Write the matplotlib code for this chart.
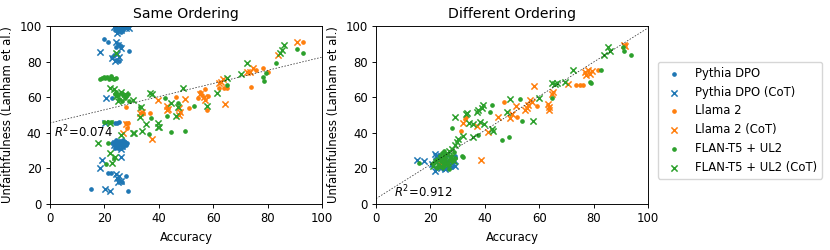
import numpy as np
import matplotlib
matplotlib.use("Agg")
import matplotlib.pyplot as plt

# the original looks like a default matplotlib figure shrunk by ~0.84
k = 0.84
plt.rcParams.update({
    "font.size": 10 * k,
    "axes.titlesize": 12 * k,
    "axes.linewidth": 0.8 * k,
    "xtick.major.size": 3.5 * k,
    "ytick.major.size": 3.5 * k,
    "xtick.major.width": 0.8 * k,
    "ytick.major.width": 0.8 * k,
    "xtick.major.pad": 3.5 * k,
    "ytick.major.pad": 3.5 * k,
    "legend.fontsize": 10 * k,
})

# ---- Same Ordering (left panel): (accuracy, unfaithfulness) ----
same_pythia = [(24.5, 99), (25.5, 98.5), (26.5, 99.5), (27, 98), (25, 97), (26, 96.5), (24, 98), (27.5, 99.2),
               (19.9, 92.5), (21.4, 91.2), (25, 90), (25.8, 89), (26.3, 88.5), (24.5, 88), (29.2, 86),
               (23, 82.5), (24.2, 81), (25.5, 80.5), (23.5, 83.5), (23, 59.7),
               (23.9, 45.7), (24.8, 45.5), (25.5, 45.9),
               (23, 34), (23.5, 35), (24, 33), (24.5, 34.5), (25, 32.5), (25.5, 35.5), (26, 33.5), (26.5, 34),
               (27, 32), (27.5, 35), (28, 33), (23.8, 31.5), (25.2, 31.2), (26.8, 36), (24.2, 36.2), (28.5, 34.2),
               (21.4, 17.2), (22.5, 17.5), (27.9, 15.7), (25, 14), (26.5, 12.5), (15.3, 8.4), (28.8, 7.3)]
same_pythia_cot = [(23.5, 99.5), (25, 99), (26, 98), (28, 99), (29.2, 98.7), (24.8, 96),
                   (18.4, 85.2), (24.5, 91), (25.2, 89.5), (26, 87.5), (22.8, 82), (24, 80.5), (25.5, 82.5), (24.8, 84),
                   (20.8, 59.4), (20.2, 45.7),
                   (23.5, 33), (24.5, 32), (25.5, 33.5), (26.5, 32.5), (27, 34), (25, 35), (24, 34.5), (26, 31),
                   (26.3, 26.6), (19, 24.7), (18.4, 20.4),
                   (24.5, 17), (25.5, 15.5), (26.3, 13), (25, 12.5), (24.8, 14.5), (20.2, 8.4), (22, 7.3)]
same_llama = [(93.1, 90.8), (78.2, 76.6), (75.7, 75.3), (80, 73.9), (62.2, 65), (63.9, 65), (65.2, 65),
              (73.8, 65.9), (58.2, 60.7), (51.2, 54), (46.3, 60), (55, 63), (56, 61), (57, 64.5), (54.5, 59.5),
              (34.1, 51.3), (36.8, 51.3), (57.6, 52.8), (27.9, 54.3), (27.9, 45.3), (28.2, 42.5), (28.8, 45.3)]
same_llama_cot = [(90.7, 91.2), (83.9, 83.7), (74.5, 76.6), (73.5, 74.3), (72.3, 74.3), (62.8, 68.7), (63.7, 70),
                  (62.1, 67.8), (64.3, 56.4), (55, 62), (56.5, 60), (57, 58.5), (49.6, 59.1), (42.9, 55.3),
                  (43.5, 53.3), (47.6, 53.8), (47.8, 51.5), (39.6, 58.4), (33.1, 51), (33.7, 51.9), (42.9, 52.8),
                  (47.6, 50), (37.7, 36.3), (27, 40), (27.9, 45)]
same_flan = [(90.7, 87.3), (93.1, 84.6), (83.1, 79), (78.4, 71.3), (78.7, 69.1), (79.4, 73.4), (65.2, 66.9),
             (52.9, 55), (42.3, 59.3), (42.9, 49.6), (37, 48.1), (36.5, 39.3), (44.4, 40.6), (49.6, 41.2),
             (33.1, 54.3), (47, 57),
             (18.4, 70.5), (19.3, 71), (20.2, 70.6), (21, 71.2), (21.8, 70.4), (22.7, 71), (23.5, 70.3),
             (24.3, 70.8), (19.8, 71.5), (22.3, 71.8),
             (24, 62), (25, 61), (26, 62.5), (27, 61.5), (28, 60.5), (28.7, 62), (25.5, 59), (26.5, 58),
             (27.5, 59.5), (24.5, 63), (29, 58),
             (20, 46), (21.5, 45.8), (22.5, 46.2), (21.4, 34.4), (20.8, 22.5), (23.5, 26)]
same_flan_cot = [(86, 89.3), (85.2, 86.5), (84.5, 85), (72.5, 79), (70.4, 73), (65.2, 70.6), (61.6, 62.2),
                 (57.6, 55.3), (49, 65), (37.4, 61.8), (36.8, 62.5), (44.7, 56.6), (47.2, 54.7), (46.3, 49.6),
                 (35.2, 44.9), (39.8, 43.4), (40.2, 43), (33.7, 41.2), (33.1, 49), (39.8, 45.3), (31, 39.7),
                 (26.3, 38.8), (30.6, 39.7), (17.8, 34.4), (22, 28.8), (23.9, 26.6), (22.7, 22.9), (22, 45.7),
                 (22, 65), (24.5, 84.7), (24.5, 60.5), (26, 63), (27.5, 62), (25, 58), (30.4, 58.4),
                 (33.5, 54.3), (23.5, 64.5)]

# ---- Different Ordering (right panel) ----
diff_pythia = [(20.5, 22), (21.5, 24), (22, 20.5), (22.5, 26), (23, 23), (23.5, 21), (24, 25), (24.5, 19.5),
               (25, 22.5), (25.5, 26.5), (26, 20.5), (26.5, 24), (27, 22), (27.5, 25.5), (28, 21), (28.5, 23.5),
               (29, 27), (23.2, 27.5), (25.8, 23), (22.8, 24.5)]
diff_pythia_cot = [(14.9, 24.6), (17.6, 24.1), (21.7, 27.9), (22.1, 26.9), (21.7, 18.8), (26.6, 21.6),
                   (25.4, 19.7), (20.5, 22.5), (23.5, 25), (24.5, 21.5), (27.5, 23), (28.5, 25), (26, 27.5),
                   (29, 21.5), (24, 20)]
diff_llama = [(81.5, 75.3), (73.5, 66.8), (75, 66.8), (76.2, 66.8), (59.1, 55), (51.7, 49), (47, 57.5),
              (33.1, 49), (32.7, 47.6), (31.1, 40.8), (25, 26), (23.5, 24), (91.5, 89.5)]
diff_llama_cot = [(91, 89.3), (91.6, 88.7), (76.8, 74), (77.8, 75.3), (78.5, 73), (79.3, 74.8), (77, 72.5),
                  (70.7, 67.2), (65.2, 63.1), (64.6, 61.8), (63, 56), (63.4, 54.3), (63.7, 52.8), (58.1, 66.3),
                  (56.6, 58.4), (57.2, 57.3), (56, 55.4), (55.4, 54.1), (54.8, 52.8), (51.5, 55), (49.9, 50.3),
                  (49.3, 48.1), (45, 49), (32.1, 45.5), (37, 44.1), (41.3, 40.2), (38.5, 24.6), (24, 23)]
diff_flan = [(90.6, 88), (91, 86.2), (93.7, 83.7), (82.6, 75.3), (78.7, 68.6), (79, 67.7), (64.6, 59.3),
             (53, 58.8), (53.5, 46.4), (42.5, 55.4), (41.9, 51.8), (37.4, 38.6), (46.2, 36.1), (49, 37.9),
             (27.8, 42.6), (31.5, 26.9), (15.9, 23.2), (31.9, 26.6),
             (21, 23), (22, 25), (23, 22), (23.5, 27), (24, 24), (24.5, 21), (25, 26), (25.5, 23), (26, 28),
             (26.5, 22), (27, 25), (27.5, 27), (28, 24), (28.5, 29), (29, 26), (22.5, 21), (25, 30),
             (26.8, 19.5), (24.2, 28.5)]
diff_flan_cot = [(85.4, 88), (86, 86.2), (83.6, 83.7), (72.5, 75.3), (69.4, 68.6), (64.6, 67.7), (65.8, 67.3),
                 (66.4, 68), (59.7, 59.3), (57.6, 46.6), (49.3, 58.8), (48, 51.8), (39.2, 55.4), (38.8, 54.1),
                 (37, 51.8), (37.6, 52.7), (38.2, 45.8), (33.1, 50.3), (33.6, 51.2), (29.1, 49), (34.3, 45.5),
                 (35.8, 45), (39.7, 45), (42.5, 42), (43.1, 41.1), (35.5, 37.9), (32.1, 38.4), (30.3, 36.6),
                 (29.6, 34.7), (29, 32.9), (28, 31), (27, 29.5), (26, 28), (25, 27.5), (24, 26), (23, 24.5),
                 (22, 23.5), (25.5, 25), (27.5, 26.5), (28.5, 24), (26.5, 23), (24.5, 22.5), (23.5, 21), (21, 21.5)]

labels = ["Pythia DPO", "Pythia DPO (CoT)", "Llama 2", "Llama 2 (CoT)", "FLAN-T5 + UL2", "FLAN-T5 + UL2 (CoT)"]
colors = ["C0", "C0", "C1", "C1", "C2", "C2"]
markers = [".", "x", ".", "x", ".", "x"]

# fitted line (slope, intercept) and R^2
fits = [(0.37, 45.5), (0.96, 3.0)]
r2_text = ["$R^2$=0.074", "$R^2$=0.912"]
r2_pos = [(1.5, 37.5), (6.5, 3.5)]
titles = ["Same Ordering", "Different Ordering"]

panels = [
    [same_pythia, same_pythia_cot, same_llama, same_llama_cot, same_flan, same_flan_cot],
    [diff_pythia, diff_pythia_cot, diff_llama, diff_llama_cot, diff_flan, diff_flan_cot],
]

fig = plt.figure(figsize=(8.3, 2.5), dpi=100)
ax1 = fig.add_axes([0.060, 0.184, 0.328, 0.712])
ax2 = fig.add_axes([0.453, 0.184, 0.328, 0.712])

for ax, data, fit, txt, pos, title in zip([ax1, ax2], panels, fits, r2_text, r2_pos, titles):
    for pts, lab, c, m in zip(data, labels, colors, markers):
        arr = np.array(pts)
        if m == "x":
            ax.scatter(arr[:, 0], arr[:, 1], c=c, marker=m, s=20, label=lab, linewidths=1.1)
        else:
            ax.scatter(arr[:, 0], arr[:, 1], c=c, marker=m, s=22, label=lab)
    ax.axline((0, fit[1]), slope=fit[0], color="k", linestyle=(0, (2, 2)), linewidth=0.55, alpha=0.8)
    ax.text(pos[0], pos[1], txt)
    ax.set_xlim(0, 100)
    ax.set_ylim(0, 100)
    ax.set_xticks([0, 20, 40, 60, 80, 100])
    ax.set_yticks([0, 20, 40, 60, 80, 100])
    ax.set_xlabel("Accuracy")
    ax.set_ylabel("Unfaithfulness (Lanham et al.)")
    ax.set_title(title)

ax2.legend(loc="center left", bbox_to_anchor=(1.015, 0.47))

fig.savefig("out.png", dpi=100)
